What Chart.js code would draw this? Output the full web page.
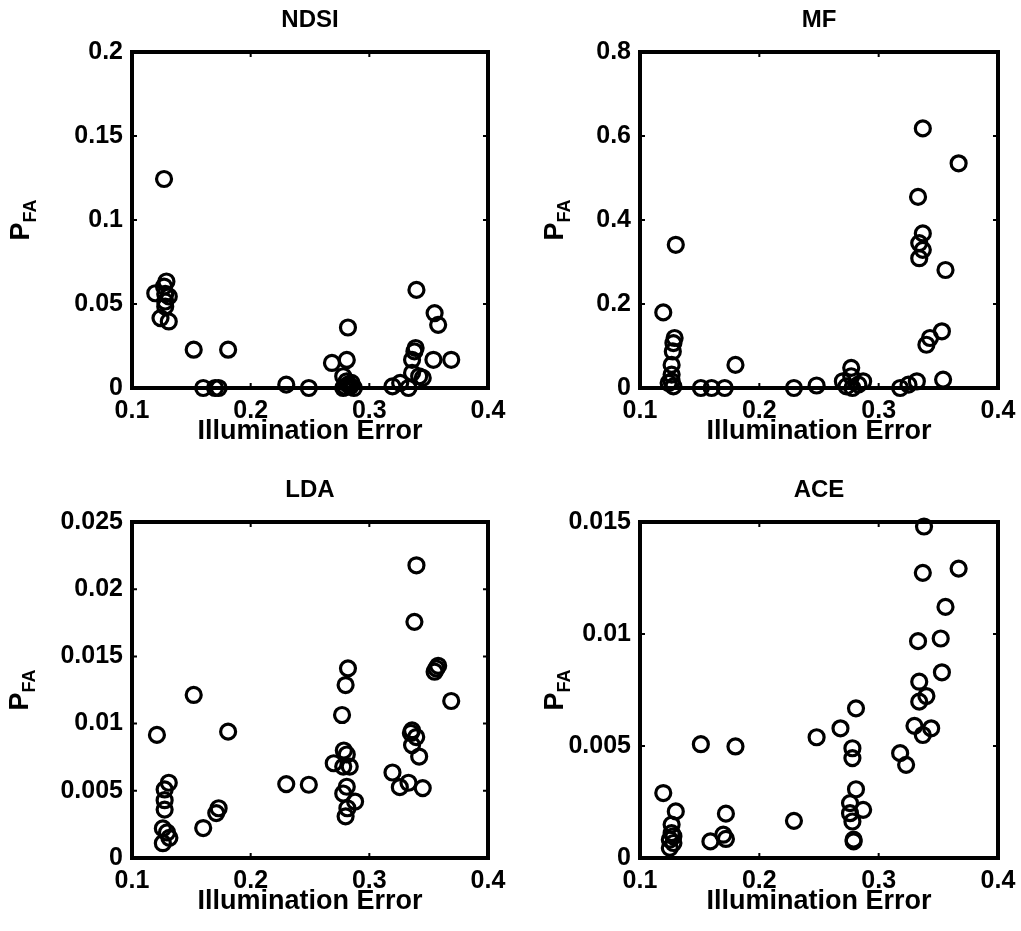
<!DOCTYPE html>
<html>
<head>
<meta charset="utf-8">
<script src="https://cdn.jsdelivr.net/npm/chart.js@4"></script>
<style>
  body { margin: 0; background: #fff; }
  #wrap { position: relative; width: 1021px; height: 931px; }
  canvas { position: absolute; }
</style>
</head>
<body>
<div id="wrap">
  <canvas id="ndsi" width="510" height="465" style="left:0;top:0"></canvas>
  <canvas id="mf" width="511" height="465" style="left:510px;top:0"></canvas>
  <canvas id="lda" width="510" height="465" style="left:0;top:470px"></canvas>
  <canvas id="ace" width="511" height="465" style="left:510px;top:470px"></canvas>
</div>
<script>
// x axis shared by all panels
const xTickValues = [0.1, 0.2, 0.3, 0.4];
const xTickLabels = ["0.1", "0.2", "0.3", "0.4"];

const ndsiTickValues = [0, 0.05, 0.1, 0.15, 0.2];
const ndsiTickLabels = ["0", "0.05", "0.1", "0.15", "0.2"];
const mfTickValues = [0, 0.2, 0.4, 0.6, 0.8];
const mfTickLabels = ["0", "0.2", "0.4", "0.6", "0.8"];
const ldaTickValues = [0, 0.005, 0.01, 0.015, 0.02, 0.025];
const ldaTickLabels = ["0", "0.005", "0.01", "0.015", "0.02", "0.025"];
const aceTickValues = [0, 0.005, 0.01, 0.015];
const aceTickLabels = ["0", "0.005", "0.01", "0.015"];

// NDSI
const ndsiX = [0.127, 0.129, 0.127, 0.1196, 0.131, 0.128, 0.124, 0.131, 0.128, 0.128,
  0.152, 0.160, 0.170, 0.173, 0.181, 0.230, 0.249, 0.2685, 0.281, 0.282,
  0.278, 0.281, 0.284, 0.287, 0.278, 0.282, 0.280, 0.285,
  0.3195, 0.326, 0.333, 0.336, 0.336, 0.339, 0.338, 0.345, 0.342, 0.3397,
  0.355, 0.358, 0.354, 0.369];
const ndsiY = [0.1244, 0.0634, 0.0604, 0.0564, 0.0545, 0.0515, 0.0416, 0.0396, 0.0485, 0.056,
  0.0228, 0, 0, 0, 0.0228, 0.002, 0, 0.0149, 0.0167, 0.036,
  0.007, 0.004, 0.001, 0, 0, 0.002, 0.0005, 0.003,
  0.001, 0.003, 0, 0.009, 0.0168, 0.0238, 0.0218, 0.006, 0.007, 0.0584,
  0.0446, 0.0376, 0.0168, 0.0168];

// MF
const mfX = [0.337, 0.367, 0.333, 0.337, 0.334, 0.337, 0.334, 0.356, 0.130, 0.1195,
  0.129, 0.128, 0.1275, 0.1265, 0.1265, 0.1265, 0.128, 0.124, 0.180,
  0.151, 0.160, 0.171, 0.229, 0.248,
  0.277, 0.270, 0.277, 0.287, 0.278, 0.273, 0.283,
  0.318, 0.325, 0.332, 0.340, 0.343, 0.353, 0.354];
const mfY = [0.618, 0.535, 0.455, 0.368, 0.345, 0.329, 0.309, 0.281, 0.341, 0.180,
  0.119, 0.107, 0.087, 0.055, 0.032, 0.016, 0.004, 0.012, 0.055,
  0, 0, 0, 0, 0.006,
  0.048, 0.016, 0.028, 0.016, 0, 0.004, 0.008,
  0, 0.008, 0.016, 0.103, 0.119, 0.135, 0.02];

// LDA
const ldaX = [0.121, 0.126, 0.1275, 0.131, 0.1275, 0.1275, 0.126, 0.1295, 0.1315,
  0.152, 0.160, 0.171, 0.173, 0.181, 0.230, 0.249,
  0.270, 0.277, 0.280, 0.282, 0.2785, 0.281, 0.278, 0.2835, 0.281, 0.278, 0.288, 0.2815, 0.280,
  0.3195, 0.3257, 0.333, 0.336, 0.335, 0.3395, 0.336, 0.342, 0.338, 0.3397, 0.345,
  0.355, 0.358, 0.3565, 0.369];
const ldaY = [0.00916, 0.0011, 0.0051, 0.0056, 0.0043, 0.0036, 0.0022, 0.0019, 0.0015,
  0.01213, 0.00223, 0.00334, 0.0037, 0.0094, 0.0055, 0.00545,
  0.00705, 0.01064, 0.01287, 0.01411, 0.0080, 0.0077, 0.0068, 0.0068, 0.0053, 0.0048, 0.0042, 0.0037, 0.0031,
  0.00636, 0.00527, 0.0056, 0.0095, 0.0093, 0.0090, 0.0084, 0.00755, 0.01757, 0.02178, 0.0052,
  0.01386, 0.0143, 0.0141, 0.01168];

// ACE
const aceX = [0.338, 0.337, 0.367, 0.356, 0.333, 0.352, 0.353, 0.334, 0.340, 0.334,
  0.330, 0.344, 0.337, 0.318, 0.323,
  0.281, 0.268, 0.248, 0.278, 0.278, 0.151, 0.180,
  0.1195, 0.130, 0.1265, 0.1265, 0.128, 0.125, 0.128, 0.125,
  0.172, 0.159, 0.1698, 0.172, 0.229,
  0.281, 0.276, 0.287, 0.276, 0.278, 0.279, 0.279];
const aceY = [0.0148, 0.01273, 0.01292, 0.01121, 0.00968, 0.0098, 0.00829, 0.00787, 0.00723, 0.00698,
  0.0059, 0.00579, 0.00549, 0.00468, 0.00416,
  0.00668, 0.00579, 0.00539, 0.0049, 0.00446, 0.00508, 0.00498,
  0.0029, 0.00208, 0.00149, 0.00111, 0.00097, 0.00045, 0.00067, 0.00082,
  0.00198, 0.00074, 0.00104, 0.00085, 0.00166,
  0.00307, 0.00245, 0.00215, 0.002, 0.00163, 0.00082, 0.00074];

const FONT = "'Liberation Sans', Arial, Helvetica, sans-serif";

// frame box, inward ticks and all titles
const framePlugin = {
  id: "frame",
  beforeDatasetsDraw(chart, args, opts) {
    const { ctx, chartArea: a } = chart;
    const xs = chart.scales.x, ys = chart.scales.y;
    ctx.save();
    ctx.strokeStyle = "#000";
    ctx.lineWidth = 2;
    ctx.beginPath();
    xTickValues.forEach((v) => {
      const px = xs.getPixelForValue(v);
      ctx.moveTo(px, a.bottom); ctx.lineTo(px, a.bottom - 5);
      ctx.moveTo(px, a.top); ctx.lineTo(px, a.top + 5);
    });
    opts.yTicks.forEach((v) => {
      const py = ys.getPixelForValue(v);
      ctx.moveTo(a.left, py); ctx.lineTo(a.left + 5, py);
      ctx.moveTo(a.right, py); ctx.lineTo(a.right - 5, py);
    });
    ctx.stroke();
    ctx.lineWidth = 4;
    ctx.strokeRect(a.left, a.top, a.right - a.left, a.bottom - a.top);

    const cx = (a.left + a.right) / 2;
    ctx.fillStyle = "#000";
    ctx.textAlign = "center";
    ctx.textBaseline = "middle";
    ctx.font = "bold 24px " + FONT;
    ctx.fillText(opts.title, cx, a.top - 32);
    ctx.font = "bold 27px " + FONT;
    ctx.fillText("Illumination Error", cx, a.bottom + 44);

    // P_FA rotated
    const cy = (a.top + a.bottom) / 2;
    ctx.translate(opts.ylabelX, cy);
    ctx.rotate(-Math.PI / 2);
    ctx.font = "bold 27px " + FONT;
    const wP = ctx.measureText("P").width;
    ctx.font = "bold 18px " + FONT;
    const wS = ctx.measureText("FA").width;
    const start = -(wP + wS) / 2;
    ctx.textAlign = "left";
    ctx.font = "bold 27px " + FONT;
    ctx.fillText("P", start, 0);
    ctx.font = "bold 18px " + FONT;
    ctx.fillText("FA", start + wP, 9);
    ctx.restore();
  },
};

function makePanel(id, title, xs, ys, yMax, yTicks, yLabels, ylabelX) {
  const points = xs.map((x, i) => ({ x: x, y: ys[i] }));
  const right = id === "mf" || id === "ace";
  return new Chart(document.getElementById(id), {
    type: "scatter",
    data: {
      datasets: [
        {
          data: points,
          pointStyle: "circle",
          pointRadius: 7.5,
          pointHoverRadius: 7.5,
          borderWidth: 3.2,
          borderColor: "#000",
          backgroundColor: "rgba(0,0,0,0)",
          clip: false,
        },
      ],
    },
    options: {
      responsive: false,
      animation: false,
      events: [],
      layout: { padding: { left: 0, top: 52, right: right ? 23 : 22, bottom: 0 } },
      plugins: {
        legend: { display: false },
        tooltip: { enabled: false },
        frame: { title: title, yTicks: yTicks, ylabelX: ylabelX },
      },
      scales: {
        x: {
          type: "linear",
          min: 0.1,
          max: 0.4,
          afterBuildTicks: (s) => { s.ticks = xTickValues.map((v) => ({ value: v })); },
          afterFit: (s) => {
            s.height = 77;
            s.paddingLeft = 0;
            s.paddingRight = 0;
          },
          grid: { display: false, drawTicks: false },
          border: { display: false },
          ticks: {
            callback: (v, i) => xTickLabels[i],
            autoSkip: false,
            maxRotation: 0,
            padding: 8,
            color: "#000",
            font: { family: FONT, size: 25, weight: "bold" },
          },
        },
        y: {
          type: "linear",
          min: 0,
          max: yMax,
          afterBuildTicks: (s) => { s.ticks = yTicks.map((v) => ({ value: v })); },
          afterFit: (s) => {
            s.width = right ? 130 : 132;
            s.paddingTop = 0;
            s.paddingBottom = 0;
          },
          grid: { display: false, drawTicks: false },
          border: { display: false },
          ticks: {
            callback: (v, i) => yLabels[i],
            autoSkip: false,
            padding: 9,
            color: "#000",
            font: { family: FONT, size: 25, weight: "bold" },
          },
        },
      },
    },
    plugins: [framePlugin],
  });
}

makePanel("ndsi", "NDSI", ndsiX, ndsiY, 0.2, ndsiTickValues, ndsiTickLabels, 22);
makePanel("mf", "MF", mfX, mfY, 0.8, mfTickValues, mfTickLabels, 46);
makePanel("lda", "LDA", ldaX, ldaY, 0.025, ldaTickValues, ldaTickLabels, 21);
makePanel("ace", "ACE", aceX, aceY, 0.015, aceTickValues, aceTickLabels, 46);
</script>
</body>
</html>
